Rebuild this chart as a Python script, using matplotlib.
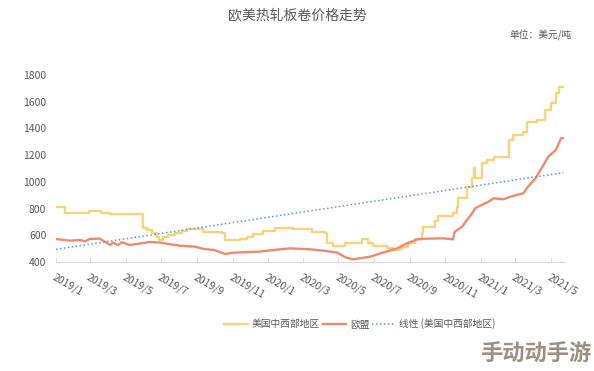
import matplotlib
matplotlib.use("Agg")
import matplotlib.pyplot as plt
import pandas as pd

plt.rcParams['font.family'] = ['Noto Sans CJK SC', 'DejaVu Sans']

# ---- data ----
us_dates = ["2019-01-01", "2019-01-16", "2019-02-26", "2019-03-19", "2019-04-04",
            "2019-05-31", "2019-06-06", "2019-06-15", "2019-06-24", "2019-06-27",
            "2019-07-04", "2019-07-13", "2019-07-25", "2019-08-06", "2019-08-14",
            "2019-09-11", "2019-10-14", "2019-10-19", "2019-11-14", "2019-11-26",
            "2019-12-06", "2019-12-23", "2020-01-13", "2020-02-13", "2020-03-17",
            "2020-04-08", "2020-04-12", "2020-04-22", "2020-05-13", "2020-06-11",
            "2020-06-20", "2020-06-30", "2020-07-24", "2020-08-03", "2020-08-15",
            "2020-08-20", "2020-08-29", "2020-09-10", "2020-09-22", "2020-09-23",
            "2020-10-14", "2020-10-19", "2020-11-14", "2020-11-21", "2020-11-22",
            "2020-12-08", "2020-12-17", "2020-12-20", "2020-12-22", "2021-01-03",
            "2021-01-12", "2021-01-23", "2021-02-18", "2021-02-26", "2021-03-15",
            "2021-03-22", "2021-04-08", "2021-04-22", "2021-05-01", "2021-05-10",
            "2021-05-16", "2021-05-23"]
us_values = [810, 765, 780, 765, 760,
             652, 640, 620, 590, 565,
             585, 600, 620, 635, 645,
             628, 620, 565, 575, 590,
             610, 635, 655, 645, 627,
             615, 540, 520, 545, 570,
             545, 520, 502, 490, 505,
             515, 545, 575, 615, 665,
             710, 747, 765, 815, 877,
             964, 1027, 1102, 1027, 1139,
             1164, 1189, 1314, 1351, 1376,
             1451, 1464, 1538, 1588, 1664,
             1713, 1713]

eu_dates = ["2019-01-01", "2019-01-25", "2019-02-11", "2019-02-20", "2019-02-28",
            "2019-03-17", "2019-03-26", "2019-04-04", "2019-04-09", "2019-04-18",
            "2019-04-24", "2019-05-08", "2019-06-12", "2019-06-29", "2019-07-11",
            "2019-08-02", "2019-08-28", "2019-09-11", "2019-09-30", "2019-10-19",
            "2019-11-02", "2019-12-18", "2020-01-10", "2020-02-08", "2020-03-13",
            "2020-04-05", "2020-04-29", "2020-05-13", "2020-05-26", "2020-06-25",
            "2020-07-12", "2020-08-10", "2020-08-27", "2020-09-14", "2020-10-01",
            "2020-10-29", "2020-11-14", "2020-11-17", "2020-11-30", "2020-12-08",
            "2020-12-17", "2020-12-22", "2021-01-14", "2021-01-23", "2021-02-09",
            "2021-02-21", "2021-03-15", "2021-03-23", "2021-04-05", "2021-04-17",
            "2021-04-27", "2021-05-10", "2021-05-19", "2021-05-23"]
eu_values = [572, 560, 565, 555, 572,
             575, 552, 527, 545, 527,
             548, 527, 550, 545, 537,
             522, 515, 498, 490, 460,
             470, 478, 490, 502, 495,
             485, 470, 435, 420, 440,
             465, 502, 540, 570, 575,
             577, 570, 627, 665, 715,
             765, 802, 852, 877, 870,
             889, 915, 964, 1027, 1114,
             1189, 1239, 1327, 1327]

trend_dates = ["2019-01-01", "2021-05-23"]
trend_values = [495, 1069]

tick_labels = ["2019/1", "2019/3", "2019/5", "2019/7", "2019/9", "2019/11",
               "2020/1", "2020/3", "2020/5", "2020/7", "2020/9", "2020/11",
               "2021/1", "2021/3", "2021/5"]
y_ticks = [400, 600, 800, 1000, 1200, 1400, 1600, 1800]

title = "欧美热轧板卷价格走势"
unit = "单位：美元/吨"
legend_names = ["美国中西部地区", "欧盟", "线性 (美国中西部地区)"]

# ---- plot ----
W, H = 594, 371
fig = plt.figure(figsize=(W / 100, H / 100), dpi=100)
ax = fig.add_axes([56 / W, 1 - 262 / H, (564 - 56) / W, (262 - 75) / H])

c_us = "#F9D37A"
c_eu = "#EE8B6E"
c_tr = "#5B9BD5"
gray = "#595959"

l1, = ax.plot(pd.to_datetime(us_dates), us_values, drawstyle="steps-post",
              color=c_us, lw=1.7)
l2, = ax.plot(pd.to_datetime(eu_dates), eu_values,
              color=c_eu, lw=1.7)
l3, = ax.plot(pd.to_datetime(trend_dates), trend_values, color=c_tr, lw=1.1,
              linestyle=(0, (1, 1.6)))

ax.set_ylim(400, 1800)
ax.set_xlim(pd.Timestamp("2019-01-01"), pd.Timestamp("2021-05-24"))
ax.set_yticks(y_ticks)
ax.set_yticklabels([str(v) for v in y_ticks], fontsize=7.5, color=gray)

tick_pos = pd.to_datetime([t.replace("/", "-") + "-01" for t in tick_labels])
ax.set_xticks(tick_pos)
ax.set_xticklabels(tick_labels, fontsize=7.5, color=gray, rotation=-30,
                   ha="left", va="top", rotation_mode="anchor")

for s in ["top", "right", "left"]:
    ax.spines[s].set_visible(False)
ax.spines["bottom"].set_color("#D9D9D9")
ax.spines["bottom"].set_linewidth(0.8)
ax.tick_params(axis="x", direction="in", length=3, color="#D9D9D9", pad=7)
ax.tick_params(axis="y", length=0, pad=7)

fig.text(297 / W, 1 - 15 / H, title, fontsize=10, color=gray,
         ha="center", va="center")
fig.text(572 / W, 1 - 35 / H, unit, fontsize=7, color=gray,
         ha="right", va="center")

leg = fig.legend([l1, l2, l3], legend_names, loc="center",
                 bbox_to_anchor=(360 / W, 1 - 324 / H), ncol=3, frameon=False,
                 fontsize=7, handlelength=2.4, handletextpad=0.4,
                 columnspacing=0.3, labelcolor=gray)

fig.text(536 / W, 1 - 354 / H, "手动动手游", fontsize=16, fontweight="bold",
         color="#8C7B6B", alpha=0.85, ha="center", va="center")

fig.savefig("out.png", dpi=100)
